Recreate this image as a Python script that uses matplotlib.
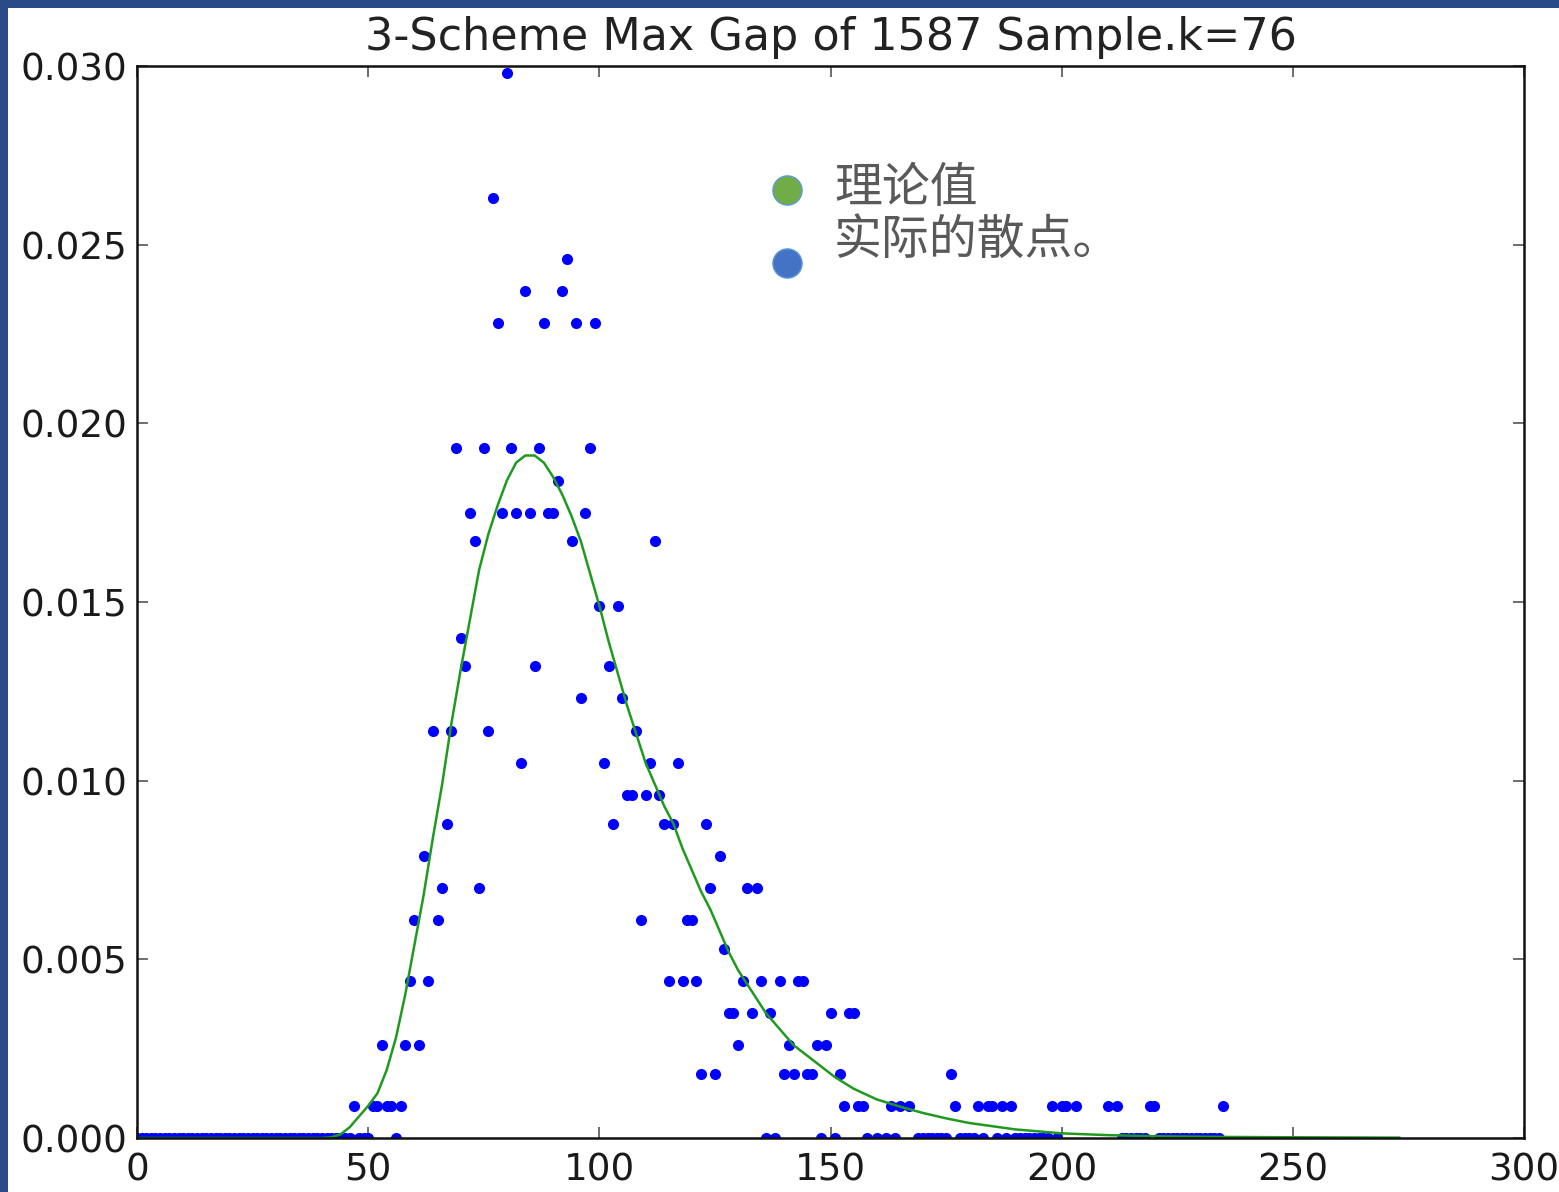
import matplotlib
matplotlib.use("Agg")
import matplotlib.pyplot as plt
from matplotlib.lines import Line2D
from matplotlib.patches import Rectangle

plt.rcParams['font.family'] = ['DejaVu Sans', 'Noto Sans CJK SC']

# observed max gaps with non-zero frequency
gaps = [80, 77, 93, 84, 92, 78, 88, 95, 99,
        69, 75, 81, 87, 98, 91,
        72, 79, 82, 85, 89, 90, 97,
        73, 94, 112, 100, 104, 70, 71, 86, 102, 96, 105,
        64, 68, 76, 108, 83, 101, 111, 117,
        106, 107, 110, 113, 67, 103, 114, 116, 123,
        62, 126, 66, 74, 124, 132, 134,
        60, 65, 109, 119, 120, 127,
        59, 63, 115, 118, 121, 131, 135, 139, 143, 144,
        128, 129, 133, 137, 150, 154, 155,
        53, 58, 61, 130, 141, 147, 149,
        122, 125, 140, 142, 145, 146, 152, 176,
        47, 51, 52, 54, 55, 57, 153, 156, 157, 163, 165, 167, 177,
        182, 184, 185, 187, 189, 198, 200, 201, 203, 210, 212, 219, 220, 235]
freqs = [0.0298, 0.0263, 0.0246, 0.0237, 0.0237, 0.0228, 0.0228, 0.0228, 0.0228,
         0.0193, 0.0193, 0.0193, 0.0193, 0.0193, 0.0184,
         0.0175, 0.0175, 0.0175, 0.0175, 0.0175, 0.0175, 0.0175,
         0.0167, 0.0167, 0.0167, 0.0149, 0.0149, 0.0140, 0.0132, 0.0132, 0.0132, 0.0123, 0.0123,
         0.0114, 0.0114, 0.0114, 0.0114, 0.0105, 0.0105, 0.0105, 0.0105,
         0.0096, 0.0096, 0.0096, 0.0096, 0.0088, 0.0088, 0.0088, 0.0088, 0.0088,
         0.0079, 0.0079, 0.0070, 0.0070, 0.0070, 0.0070, 0.0070,
         0.0061, 0.0061, 0.0061, 0.0061, 0.0061, 0.0053,
         0.0044, 0.0044, 0.0044, 0.0044, 0.0044, 0.0044, 0.0044, 0.0044, 0.0044, 0.0044,
         0.0035, 0.0035, 0.0035, 0.0035, 0.0035, 0.0035, 0.0035,
         0.0026, 0.0026, 0.0026, 0.0026, 0.0026, 0.0026, 0.0026,
         0.0018, 0.0018, 0.0018, 0.0018, 0.0018, 0.0018, 0.0018, 0.0018,
         0.0009, 0.0009, 0.0009, 0.0009, 0.0009, 0.0009, 0.0009, 0.0009, 0.0009, 0.0009, 0.0009, 0.0009, 0.0009,
         0.0009, 0.0009, 0.0009, 0.0009, 0.0009, 0.0009, 0.0009, 0.0009, 0.0009, 0.0009, 0.0009, 0.0009, 0.0009, 0.0009]

# gaps that never occurred (frequency 0)
zero_gaps = [0, 1, 2, 3, 4, 5, 6, 7, 8, 9, 10, 11, 12, 13, 14, 15, 16, 17, 18, 19,
             20, 21, 22, 23, 24, 25, 26, 27, 28, 29, 30, 31, 32, 33, 34, 35, 36, 37,
             38, 39, 40, 41, 42, 43, 44, 45, 46, 48, 49, 50, 56,
             136, 138, 148, 151, 158, 160, 162, 164, 169, 170, 171, 172, 173, 174, 175,
             178, 179, 180, 181, 183, 186, 188, 190, 191, 192, 193, 194, 195, 196, 197, 199,
             213, 214, 215, 216, 217, 218, 221, 222, 223, 224, 225, 226, 227, 228, 229,
             230, 231, 232, 233, 234]
zero_freqs = [0.0] * len(zero_gaps)

# theoretical curve
theory_x = [0, 40, 42, 44, 46, 48, 50, 52, 54, 56, 58, 60, 62, 64, 66, 68, 70, 72,
            74, 76, 78, 80, 82, 84, 86, 88, 90, 92, 94, 96, 98, 100, 102, 104, 106,
            108, 110, 112, 114, 116, 118, 120, 122, 124, 126, 128, 130, 132, 134, 136,
            138, 140, 142, 145, 148, 151, 155, 160, 165, 170, 175, 180, 190, 200, 210,
            220, 235, 250, 273]
theory_y = [0, 0, 0.00002, 0.0001, 0.0003, 0.0006, 0.0009, 0.00125, 0.0019, 0.0028,
            0.0040, 0.0054, 0.0068, 0.0084, 0.0099, 0.0116, 0.0131, 0.0145, 0.0159,
            0.0169, 0.0177, 0.0184, 0.0189, 0.0191, 0.0191, 0.0189, 0.0185, 0.0180,
            0.0174, 0.0167, 0.0158, 0.0149, 0.0139, 0.0130, 0.0121, 0.0113, 0.0105,
            0.0099, 0.0093, 0.0088, 0.0081, 0.0075, 0.0069, 0.0064, 0.0058, 0.0052,
            0.0047, 0.0043, 0.0039, 0.0035, 0.0032, 0.0029, 0.0026, 0.0023, 0.0020,
            0.0017, 0.00138, 0.00108, 0.00088, 0.0007, 0.00055, 0.00042, 0.00024,
            0.00013, 0.00008, 0.00005, 0.00003, 0.00002, 0.00001]

fig = plt.figure(figsize=(15.59, 11.92), dpi=100)
fig.patch.set_facecolor('#2b4a88')
fig.add_artist(Rectangle((8 / 1559, 0), 1, 1 - 8 / 1192, transform=fig.transFigure,
                         facecolor='white', edgecolor='none', zorder=0))

ax = fig.add_axes([137 / 1559, 54 / 1192, 1387 / 1559, 1072 / 1192])
ax.plot(gaps, freqs, 'o', color='b', markersize=8, markeredgewidth=0, zorder=2)
ax.plot(zero_gaps, zero_freqs, 'o', color='b', markersize=8, markeredgewidth=0, zorder=2)
ax.plot(theory_x, theory_y, color='#1f9a1f', linewidth=1.8, zorder=3)

ax.set_xlim(0, 300)
ax.set_ylim(0, 0.030)
ax.set_xticks([0, 50, 100, 150, 200, 250, 300])
ax.set_yticks([0.000, 0.005, 0.010, 0.015, 0.020, 0.025, 0.030])
ax.set_yticklabels(['0.000', '0.005', '0.010', '0.015', '0.020', '0.025', '0.030'])
ax.tick_params(direction='in', length=8, width=1.2, color='#555555', top=True, right=True,
               labelsize=26.8, labelcolor='#1a1a1a')
ax.tick_params(axis='x', pad=10)
ax.tick_params(axis='y', pad=7)
for s in ax.spines.values():
    s.set_linewidth(1.8)
    s.set_color('#111111')
    s.set_zorder(4)

ax.set_title('3-Scheme Max Gap of 1587 Sample.k=76', fontsize=32, color='#222222', pad=11.5)

# slide legend overlay
fig.add_artist(Line2D([787 / 1559], [1 - 190 / 1192], marker='o', markersize=21,
                      markerfacecolor='#70ad47', markeredgecolor='#5b9bd5',
                      markeredgewidth=1.0, transform=fig.transFigure))
fig.add_artist(Line2D([787 / 1559], [1 - 263 / 1192], marker='o', markersize=21,
                      markerfacecolor='#4472c4', markeredgecolor='#5b9bd5',
                      markeredgewidth=1.0, transform=fig.transFigure))
fig.text(834 / 1559, 1 - 188 / 1192, '理论值', fontsize=34.5, color='#595959',
         family=['Noto Sans CJK SC', 'DejaVu Sans'], va='center', ha='left')
fig.text(834 / 1559, 1 - 240 / 1192, '实际的散点。', fontsize=34.5, color='#595959',
         family=['Noto Sans CJK SC', 'DejaVu Sans'], va='center', ha='left')

fig.savefig('out.png', dpi=100, facecolor=fig.get_facecolor())
